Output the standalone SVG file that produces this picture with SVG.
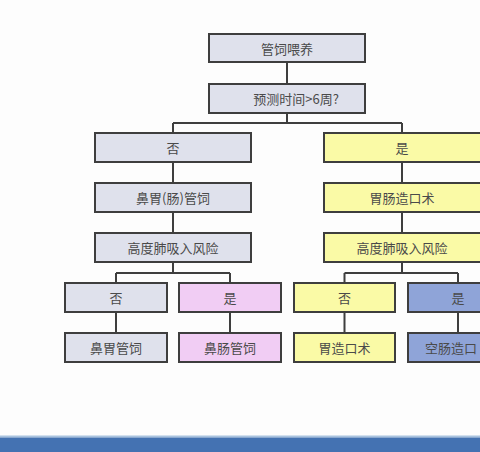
<svg xmlns="http://www.w3.org/2000/svg" width="480" height="452" viewBox="0 0 480 452">
<style>
.b{stroke:#3e3e3e;stroke-width:2}
.g{fill:#dfe1ec}
.y{fill:#fafaa6}
.p{fill:#f1cdf4}
.u{fill:#8fa4d8}
.t{font-family:"Noto Sans CJK SC","Noto Sans",sans-serif;font-size:13px;fill:#4a4a4a;text-anchor:middle;dominant-baseline:central}
.c{fill:none;stroke:#3e3e3e;stroke-width:2}
</style>
<rect width="480" height="452" fill="#fdfdfd"/>
<rect x="0" y="435.5" width="480" height="2" fill="#a9c3df"/>
<rect x="0" y="437.5" width="480" height="15" fill="#4472b2"/>
<g id="connectors">
<path class="c" d="M287 62V84M287 113V123M173 123H402M173 123V133M402 123V133M173 162V183M402 162V183M173 212V233M402 212V233M173 262V273M116 273H230M116 273V283M230 273V283M402 262V273M344.5 273H458M344.5 273V283M458 273V283M116 312V333M230 312V333M344.5 312V333M458 312V333"/>
</g>
<g id="n1"><rect class="b g" x="209" y="34" width="156" height="28"/><text class="t" x="287" y="48">管饲喂养</text></g>
<g id="n2"><rect class="b g" x="209" y="84" width="156" height="29"/><text class="t" x="296" y="98.5">预测时间&gt;6周?</text></g>
<g id="n3"><rect class="b g" x="95" y="133" width="156" height="29"/><text class="t" x="173" y="147.5">否</text></g>
<g id="n4"><rect class="b y" x="324" y="133" width="157" height="29"/><text class="t" x="402" y="147.5">是</text></g>
<g id="n5"><rect class="b g" x="95" y="183" width="156" height="29"/><text class="t" x="173" y="197.5">鼻胃(肠)管饲</text></g>
<g id="n6"><rect class="b y" x="324" y="183" width="157" height="29"/><text class="t" x="402" y="197.5">胃肠造口术</text></g>
<g id="n7"><rect class="b g" x="95" y="233" width="156" height="29"/><text class="t" x="173" y="247.5">高度肺吸入风险</text></g>
<g id="n8"><rect class="b y" x="324" y="233" width="157" height="29"/><text class="t" x="402" y="247.5">高度肺吸入风险</text></g>
<g id="n9"><rect class="b g" x="65" y="283" width="102" height="29"/><text class="t" x="116" y="297.5">否</text></g>
<g id="n10"><rect class="b p" x="179" y="283" width="102" height="29"/><text class="t" x="230" y="297.5">是</text></g>
<g id="n11"><rect class="b y" x="294" y="283" width="101" height="29"/><text class="t" x="344.5" y="297.5">否</text></g>
<g id="n12"><rect class="b u" x="408" y="283" width="100" height="29"/><text class="t" x="458" y="297.5">是</text></g>
<g id="n13"><rect class="b g" x="65" y="333" width="102" height="29"/><text class="t" x="116" y="347.5">鼻胃管饲</text></g>
<g id="n14"><rect class="b p" x="179" y="333" width="102" height="29"/><text class="t" x="230" y="347.5">鼻肠管饲</text></g>
<g id="n15"><rect class="b y" x="294" y="333" width="101" height="29"/><text class="t" x="344.5" y="347.5">胃造口术</text></g>
<g id="n16"><rect class="b u" x="408" y="333" width="100" height="29"/><text class="t" x="451" y="347.5">空肠造口</text></g>
</svg>
